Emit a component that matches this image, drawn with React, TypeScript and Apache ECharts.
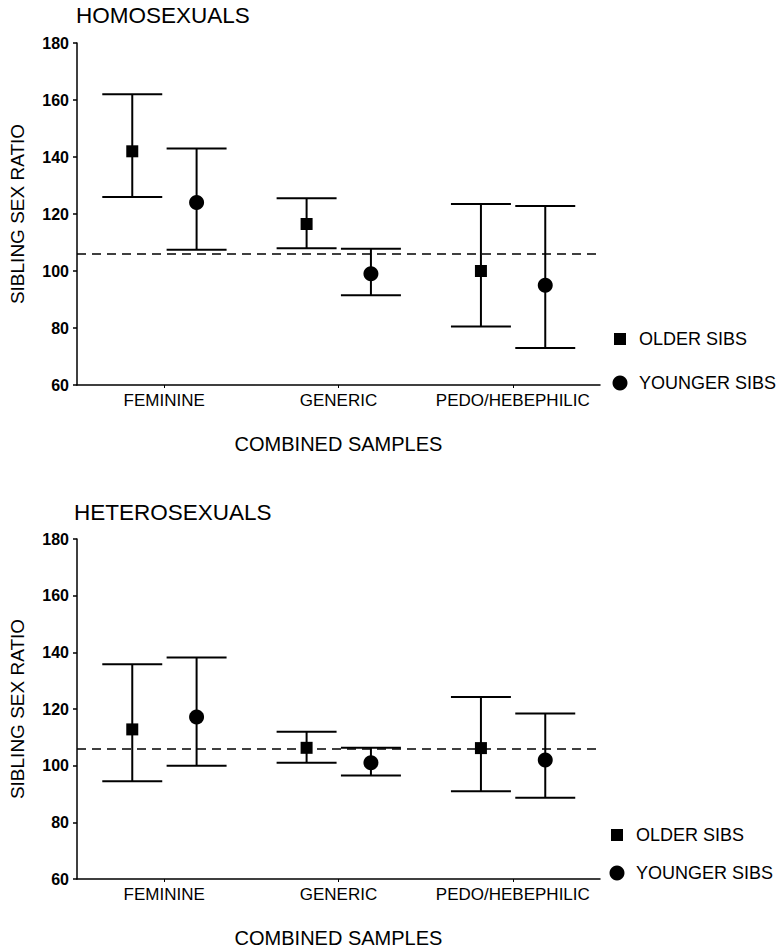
import React, { useEffect, useRef } from "react";
import * as echarts from "echarts";

const categories = ["FEMININE", "GENERIC", "PEDO/HEBEPHILIC"];
const yTicks = [60, 80, 100, 120, 140, 160, 180];
const referenceRatio = 106;

// [mean, lower, upper] per category
const homoOlder = [
  [142, 126, 162],
  [116.5, 108, 125.5],
  [100, 80.5, 123.5],
];
const homoYounger = [
  [124, 107.5, 143],
  [99, 91.5, 107.8],
  [95, 73, 122.8],
];
const heteroOlder = [
  [112.8, 94.5, 135.8],
  [106.3, 101, 112],
  [106.2, 91, 124.2],
];
const heteroYounger = [
  [117.2, 100, 138.2],
  [101, 96.5, 106.3],
  [102, 88.7, 118.4],
];

const panelTitles = ["HOMOSEXUALS", "HETEROSEXUALS"];
const seriesNames = ["OLDER SIBS", "YOUNGER SIBS"];
const yAxisName = "SIBLING SEX RATIO";
const xAxisName = "COMBINED SAMPLES";

const FONT = "'Liberation Sans', Arial, Helvetica, sans-serif";

function toData(rows: number[][]) {
  return rows.map((r, i) => [i, r[0], r[1], r[2]]);
}

function makeRender(offsetFrac: number, marker: "square" | "circle") {
  return (params: any, api: any) => {
    const ci = api.value(0);
    const m = api.coord([ci, api.value(1)]);
    const lo = api.coord([ci, api.value(2)]);
    const hi = api.coord([ci, api.value(3)]);
    const band = api.size([1, 0])[0];
    const x = m[0] + offsetFrac * band;
    const half = band * 0.172;
    const ls = { stroke: "#000", lineWidth: 2 };
    const children: any[] = [
      { type: "line", shape: { x1: x, y1: hi[1], x2: x, y2: lo[1] }, style: ls },
      { type: "line", shape: { x1: x - half, y1: hi[1], x2: x + half, y2: hi[1] }, style: ls },
      { type: "line", shape: { x1: x - half, y1: lo[1], x2: x + half, y2: lo[1] }, style: ls },
    ];
    if (marker === "square") {
      children.push({ type: "rect", shape: { x: x - 6, y: m[1] - 6, width: 12, height: 12 }, style: { fill: "#000" } });
    } else {
      children.push({ type: "circle", shape: { cx: x, cy: m[1], r: 7.5 }, style: { fill: "#000" } });
    }
    return { type: "group", children };
  };
}

const grids = [
  { left: 76, top: 43, width: 524, height: 342 },
  { left: 74, top: 539, width: 526, height: 343 },
];

export default function App() {
  const ref = useRef<HTMLDivElement>(null);
  useEffect(() => {
    if (!ref.current) return;
    const chart = echarts.init(ref.current, null, { renderer: "svg" });
    const axisLine = { show: true, lineStyle: { color: "#000", width: 1.5 } };
    const xAxes = grids.map((_, i) => ({
      type: "category",
      gridIndex: i,
      data: categories,
      boundaryGap: true,
      axisLine,
      axisTick: { show: true, alignWithLabel: true, length: 3, lineStyle: { color: "#000" } },
      axisLabel: { color: "#000", fontFamily: FONT, fontSize: 17, margin: 7, interval: 0, hideOverlap: false },
      name: xAxisName,
      nameLocation: "middle",
      nameGap: 49,
      nameTextStyle: { color: "#000", fontFamily: FONT, fontSize: 20 },
      splitLine: { show: false },
    }));
    const yAxes = grids.map((_, i) => ({
      type: "value",
      gridIndex: i,
      min: 60,
      max: 180,
      interval: 20,
      axisLine,
      axisTick: { show: true, length: 4, lineStyle: { color: "#000", width: 1.5 } },
      axisLabel: { color: "#000", fontFamily: FONT, fontSize: 16, fontWeight: "bold", margin: 8 },
      splitLine: { show: false },
      name: yAxisName,
      nameLocation: "middle",
      nameRotate: 90,
      nameGap: 50,
      nameTextStyle: { color: "#000", fontFamily: FONT, fontSize: 19 },
    }));
    const panels = [
      [homoOlder, homoYounger],
      [heteroOlder, heteroYounger],
    ];
    const series: any[] = [];
    panels.forEach((pair, pi) => {
      pair.forEach((rows, si) => {
        series.push({
          type: "custom",
          name: seriesNames[si],
          xAxisIndex: pi,
          yAxisIndex: pi,
          data: toData(rows),
          encode: { x: 0, y: [1, 2, 3] },
          renderItem: makeRender(si === 0 ? -0.183 : 0.186, si === 0 ? "square" : "circle"),
          itemStyle: { color: "#000" },
          z: 3,
          markLine:
            si === 0
              ? {
                  silent: true,
                  symbol: ["none", "none"],
                  label: { show: false },
                  lineStyle: { color: "#000", width: 1.5, type: [9, 6] },
                  data: [{ yAxis: referenceRatio }],
                  z: 2,
                }
              : undefined,
        });
      });
    });
    const legendPos = [
      { x: 620, y1: 339, y2: 383 },
      { x: 617, y1: 835, y2: 873 },
    ];
    const graphic: any[] = [];
    panelTitles.forEach((t, i) => {
      graphic.push({
        type: "text",
        left: i === 0 ? 76 : 74,
        top: i === 0 ? 4 : 501,
        style: { text: t, fill: "#000", font: `22.5px ${FONT}` },
      });
      const lp = legendPos[i];
      graphic.push({ type: "rect", shape: { x: lp.x - 6, y: lp.y1 - 6, width: 12, height: 12 }, style: { fill: "#000" } });
      graphic.push({ type: "circle", shape: { cx: lp.x, cy: lp.y2, r: 7.5 }, style: { fill: "#000" } });
      graphic.push({
        type: "text",
        x: lp.x + 19,
        y: lp.y1,
        style: { text: seriesNames[0], fill: "#000", font: `18px ${FONT}`, verticalAlign: "middle" },
      });
      graphic.push({
        type: "text",
        x: lp.x + 19,
        y: lp.y2,
        style: { text: seriesNames[1], fill: "#000", font: `18px ${FONT}`, verticalAlign: "middle" },
      });
    });
    chart.setOption({
      animation: false,
      backgroundColor: "#fff",
      grid: grids,
      xAxis: xAxes,
      yAxis: yAxes,
      series,
      graphic,
    });
    return () => chart.dispose();
  }, []);
  return (
    <div
      ref={ref}
      style={{ position: "fixed", left: 0, top: 0, width: 780, height: 949, background: "#fff" }}
    />
  );
}
